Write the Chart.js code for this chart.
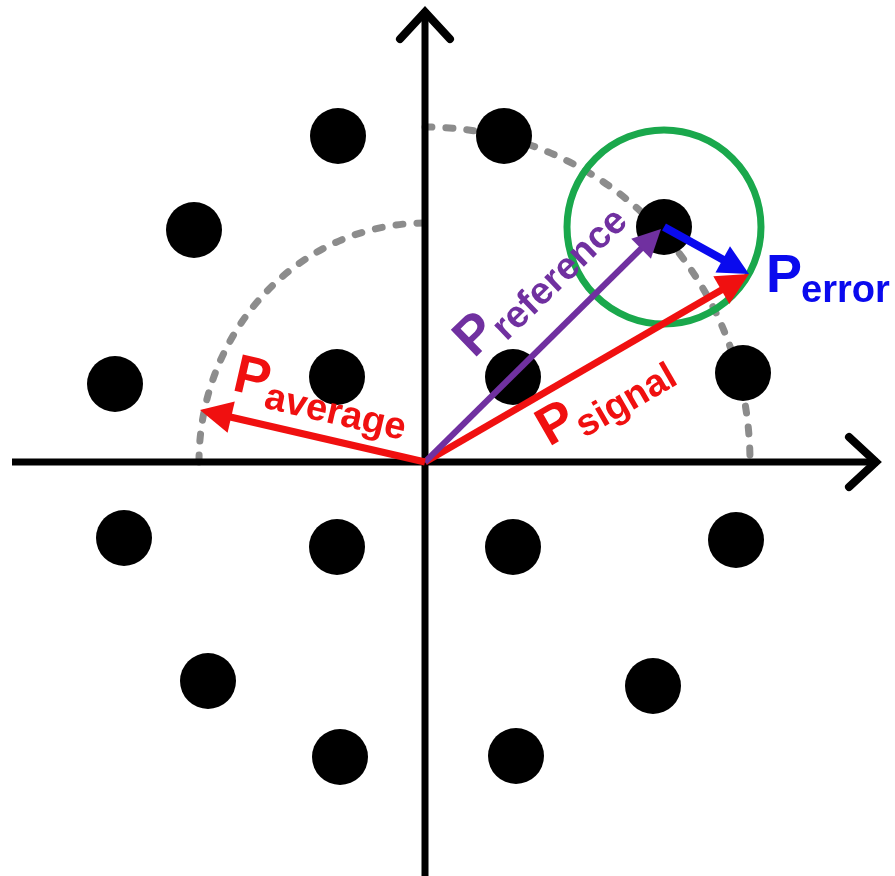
<!DOCTYPE html>
<html>
<head>
<meta charset="utf-8">
<title>Constellation</title>
<script src="https://cdn.jsdelivr.net/npm/chart.js@4.4.1/dist/chart.umd.min.js"></script>
<style>
    html, body { margin: 0; padding: 0; background: #fff; }
    #wrap { width: 895px; height: 876px; }
</style>
</head>
<body>
<div id="wrap"><canvas id="chart"></canvas></div>
<script>
/* ---------------- DATA ---------------- */
// constellation symbols, in-phase / quadrature
const symbolI = [79, 239, 88, 318, -87, -231, -310, -88, -301, -88, -217, -85, 88, 311, 228, 91];
const symbolQ = [326, 235, 85, 89, 326, 232, 78, 85, -76, -85, -219, -295, -85, -78, -224, -294];

// axis extents
const axisI = [-413, 453];
const axisQ = [-414, 452];

// power vectors
const vectorNames = ["average", "reference", "signal", "error"];
const vectorFromI = [0, 0, 0, 239];
const vectorFromQ = [0, 0, 0, 235];
const vectorToI = [-225, 236, 324, 324];
const vectorToQ = [52, 233, 188, 188];

// dashed amplitude rings (quarter arcs, degrees)
const ringRadiusI = [226, 325];
const ringRadiusQ = [239, 335];
const ringFrom = [90, 0];
const ringTo = [180, 90];

// the reference symbol gets the error circle
const refSymbol = 1;

/* ---------------- STYLE ---------------- */
const RED = "#f01010";
const PURPLE = "#7030a0";
const BLUE = "#0a0aee";
const GREEN = "#1aa84c";
const GREY = "#8c8c8c";
const FONT = '"Liberation Sans", Arial, sans-serif';

const vectorColors = [RED, PURPLE, RED, BLUE];
const vectorWidths = [7, 6, 7, 8];
const headLen = [32, 28, 32, 30];
const headHalf = [16, 14, 16, 15];

const labelSpec = [
    { sub: "average", color: RED, at: [-194, 72], angle: 13 },
    { sub: "reference", color: PURPLE, at: [49, 103], angle: -44 },
    { sub: "signal", color: RED, at: [124, 15], angle: -30 },
    { sub: "error", color: BLUE, at: [341, 170], angle: 0 }
];

/* ---------------- DATASETS ---------------- */
const datasets = [];

vectorNames.forEach((name, i) => {
    datasets.push({
        label: name,
        data: [{ x: vectorFromI[i], y: vectorFromQ[i] }, { x: vectorToI[i], y: vectorToQ[i] }],
        showLine: true,
        borderColor: vectorColors[i],
        borderWidth: vectorWidths[i],
        borderCapStyle: "butt",
        pointRadius: 0,
        order: 1,
        arrow: i
    });
});

datasets.push({
    label: "error circle",
    data: [{ x: symbolI[refSymbol], y: symbolQ[refSymbol] }],
    pointRadius: 97,
    pointBorderWidth: 7,
    borderWidth: 7,
    borderColor: GREEN,
    backgroundColor: "rgba(0,0,0,0)",
    order: 2
});

datasets.push({
    label: "symbols",
    data: symbolI.map((v, i) => ({ x: v, y: symbolQ[i] })),
    pointRadius: 28,
    backgroundColor: "#000",
    borderWidth: 0,
    order: 3
});

datasets.push({
    label: "I axis",
    data: axisI.map(v => ({ x: v, y: 0 })),
    showLine: true, borderColor: "#000", borderWidth: 7, pointRadius: 0, order: 4
});
datasets.push({
    label: "Q axis",
    data: axisQ.map(v => ({ x: 0, y: v })),
    showLine: true, borderColor: "#000", borderWidth: 7, pointRadius: 0, order: 4
});

/* ---------------- PLUGINS ---------------- */
function px(chart, x, y) {
    return [chart.scales.x.getPixelForValue(x), chart.scales.y.getPixelForValue(y)];
}

// dashed rings behind everything
const ringPlugin = {
    id: "rings",
    beforeDatasetsDraw(chart) {
        const ctx = chart.ctx;
        const [cx, cy] = px(chart, 0, 0);
        ctx.save();
        ctx.strokeStyle = GREY;
        ctx.lineWidth = 7;
        ctx.lineCap = "round";
        ctx.setLineDash([7, 14]);
        ringRadiusI.forEach((r, i) => {
            const rx = px(chart, r, 0)[0] - cx;
            const ry = cy - px(chart, 0, ringRadiusQ[i])[1];
            ctx.beginPath();
            ctx.ellipse(cx, cy, rx, ry, 0, -ringTo[i] * Math.PI / 180, -ringFrom[i] * Math.PI / 180);
            ctx.stroke();
        });
        ctx.restore();
    }
};

// keep the vector shafts out of their arrow tips
const tipClipPlugin = {
    id: "tipClip",
    beforeDatasetDraw(chart, args) {
        const ds = chart.data.datasets[args.index];
        if (ds.arrow === undefined) return;
        const i = ds.arrow;
        const [tx, ty] = px(chart, vectorToI[i], vectorToQ[i]);
        const ctx = chart.ctx;
        ctx.save();
        ctx.beginPath();
        ctx.rect(0, 0, chart.width, chart.height);
        ctx.arc(tx, ty, headLen[i] * 0.6, 0, Math.PI * 2);
        ctx.clip("evenodd");
    },
    afterDatasetDraw(chart, args) {
        const ds = chart.data.datasets[args.index];
        if (ds.arrow === undefined) return;
        chart.ctx.restore();
    }
};

function head(ctx, x0, y0, x1, y1, len, half, color) {
    const a = Math.atan2(y1 - y0, x1 - x0);
    ctx.save();
    ctx.translate(x1, y1);
    ctx.rotate(a);
    ctx.beginPath();
    ctx.moveTo(0, 0);
    ctx.lineTo(-len, -half);
    ctx.lineTo(-len, half);
    ctx.closePath();
    ctx.fillStyle = color;
    ctx.fill();
    ctx.restore();
}

function chevron(ctx, x, y, angle) {
    ctx.save();
    ctx.translate(x, y);
    ctx.rotate(angle);
    ctx.beginPath();
    ctx.moveTo(-27, -25);
    ctx.lineTo(0, 0);
    ctx.lineTo(-27, 25);
    ctx.strokeStyle = "#000";
    ctx.lineWidth = 8;
    ctx.lineCap = "round";
    ctx.lineJoin = "miter";
    ctx.stroke();
    ctx.restore();
}

const overlayPlugin = {
    id: "overlay",
    afterDatasetsDraw(chart) {
        const ctx = chart.ctx;

        // axis arrows
        const [ax, ay] = px(chart, axisI[1] - 2, 0);
        chevron(ctx, ax, ay, 0);
        const [bx, by] = px(chart, 0, axisQ[1] - 2);
        chevron(ctx, bx, by, -Math.PI / 2);

        // vector heads
        vectorNames.forEach((n, i) => {
            const [x0, y0] = px(chart, vectorFromI[i], vectorFromQ[i]);
            const [x1, y1] = px(chart, vectorToI[i], vectorToQ[i]);
            head(ctx, x0, y0, x1, y1, headLen[i], headHalf[i], vectorColors[i]);
        });

        // P labels with subscripts
        labelSpec.forEach(l => {
            const [x, y] = px(chart, l.at[0], l.at[1]);
            ctx.save();
            ctx.translate(x, y);
            ctx.rotate(l.angle * Math.PI / 180);
            ctx.fillStyle = l.color;
            ctx.textBaseline = "alphabetic";
            ctx.textAlign = "left";
            ctx.font = "bold 54px " + FONT;
            ctx.fillText("P", 0, 0);
            const w = ctx.measureText("P").width;
            ctx.font = "bold 38px " + FONT;
            ctx.fillText(l.sub, w - 1, 10);
            ctx.restore();
        });
    }
};

/* ---------------- CHART ---------------- */
new Chart(document.getElementById("chart"), {
    type: "scatter",
    data: { datasets: datasets },
    options: {
        responsive: true,
        maintainAspectRatio: false,
        animation: false,
        events: [],
        layout: { padding: 0, autoPadding: false },
        plugins: { legend: { display: false }, tooltip: { enabled: false } },
        scales: {
            x: { type: "linear", min: -425, max: 470, display: false },
            y: { type: "linear", min: -414, max: 462, display: false }
        },
        datasets: { scatter: { clip: false } }
    },
    plugins: [ringPlugin, tipClipPlugin, overlayPlugin]
});
</script>
</body>
</html>
